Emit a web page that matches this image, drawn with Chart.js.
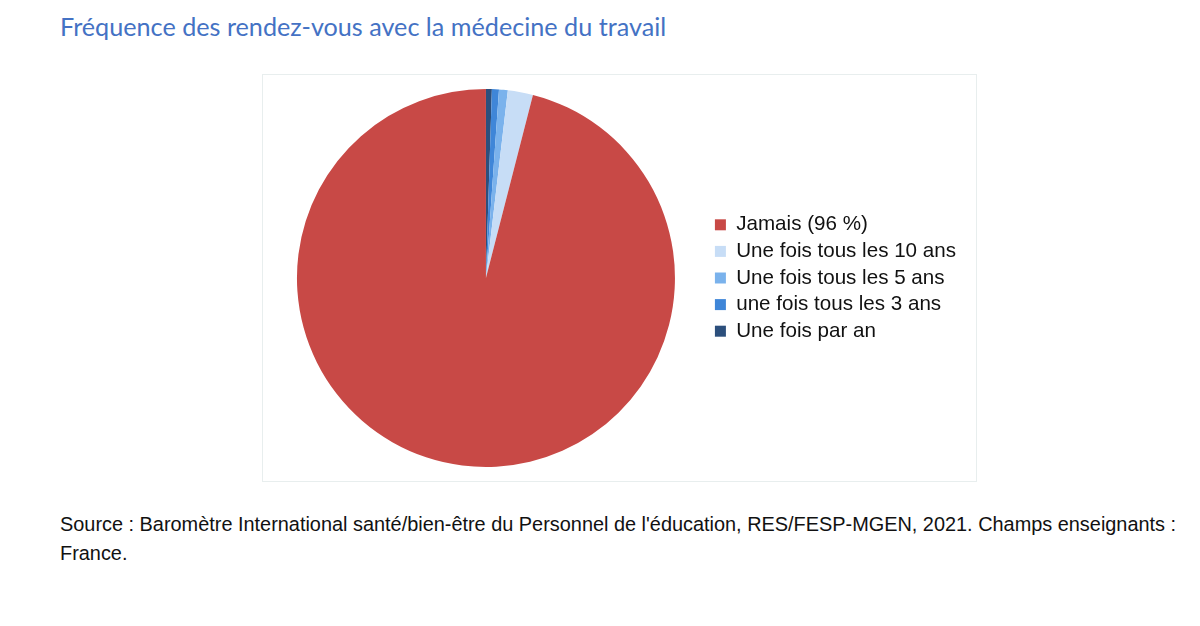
<!DOCTYPE html>
<html>
<head>
<meta charset="utf-8">
<script src="https://cdn.jsdelivr.net/npm/chart.js@4"></script>
<style>
  body { margin: 0; background: #fff; width: 1200px; height: 626px; position: relative; overflow: hidden; }
  #title { position: absolute; left: 60px; top: 11px; font-family: Lato, sans-serif; font-size: 25.2px; color: #4472c4; white-space: nowrap; }
  #box { position: absolute; left: 262px; top: 74px; width: 715px; height: 408px; border: 1px solid #e8eeee; box-sizing: border-box; }
  #source { position: absolute; left: 60px; top: 510px; width: 1130px; font-family: "Liberation Sans", Arial, sans-serif; font-size: 19.9px; line-height: 29px; color: #111; }
</style>
</head>
<body>
<div id="title">Fréquence des rendez-vous avec la médecine du travail</div>
<div id="box"><canvas id="Chart_1"></canvas></div>
<div id="source">Source : Baromètre International santé/bien-être du Personnel de l'éducation, RES/FESP-MGEN, 2021. Champs enseignants : France.</div>
<script>
// drawn clockwise from the top, legend shown in reverse
var labels = ['Une fois par an', 'une fois tous les 3 ans', 'Une fois tous les 5 ans', 'Une fois tous les 10 ans', 'Jamais (96 %)'];
var values = [0.5, 0.6, 0.75, 2.15, 96];
var colors = ['#2c4f7c', '#3f86d8', '#7ab2ec', '#c7ddf6', '#c84946'];

var ctx = document.getElementById('Chart_1');
var chart = new Chart(ctx, {
    type: 'pie',
    data: {
        labels: labels,
        datasets: [{
            backgroundColor: colors,
            borderWidth: 0,
            data: values
        }]
    },
    options: {
        responsive: true,
        maintainAspectRatio: false,
        animation: false,
        layout: { padding: { left: 0, right: 10, top: 14, bottom: 14 } },
        plugins: {
            tooltip: { enabled: false },
            legend: {
                position: 'right',
                reverse: true,
                labels: {
                    boxWidth: 11,
                    boxHeight: 11,
                    padding: 6,
                    color: '#111',
                    font: { family: '"Liberation Sans", Arial, sans-serif', size: 20.6 }
                }
            }
        }
    }
});
</script>
</body>
</html>
